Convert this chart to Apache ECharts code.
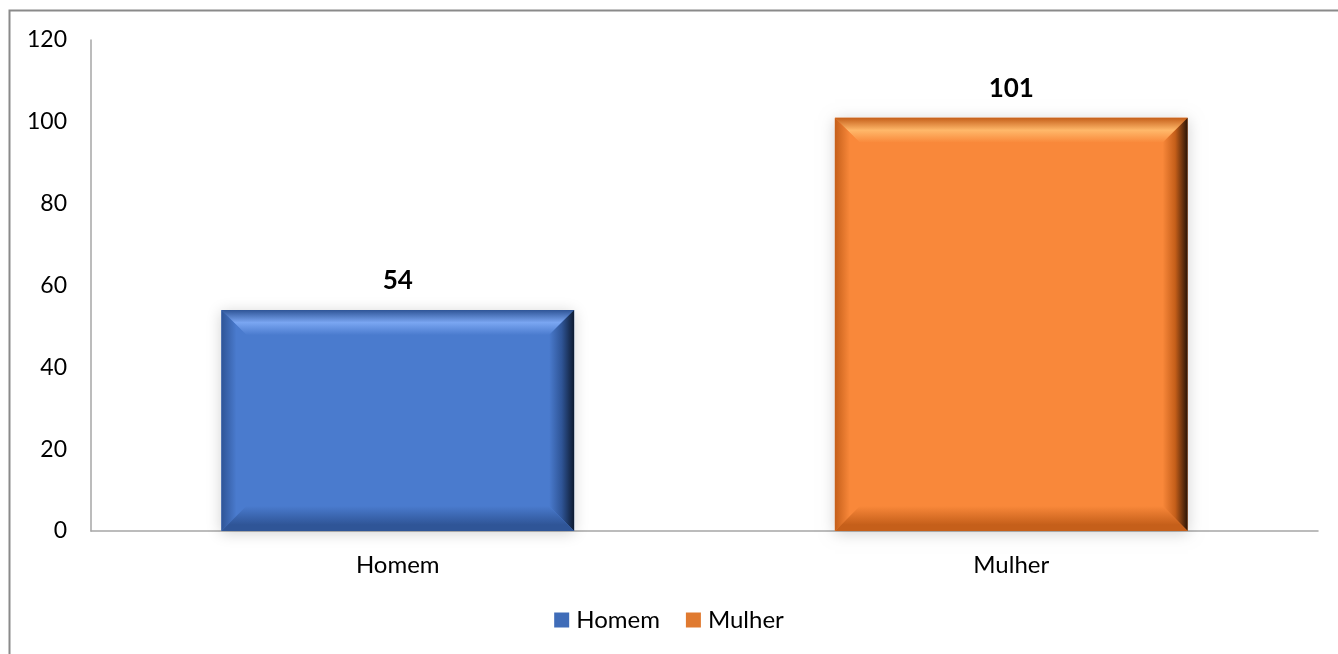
<!DOCTYPE html>
<html>
<head>
<meta charset="utf-8">
<script src="https://cdn.jsdelivr.net/npm/echarts@6/dist/echarts.min.js"></script>
<style>
  html, body { margin: 0; padding: 0; background: #fff; }
  #chart { width: 1338px; height: 654px; }
</style>
</head>
<body>
<div id="chart"></div>
<script>
const categories = ['Homem', 'Mulher']
const homemValues = [54]
const mulherValues = [101]
const yTicks = { min: 0, max: 120, interval: 20 }

const FONT = 'Lato, "Noto Sans", sans-serif'

// bevel-style bar, drawn through the axis scale
const bevelBar = (base, light, dark, darkest) => (params, api) => {
  const cat = api.value(0)
  const val = api.value(1)
  const top = api.coord([cat, val])
  const bottom = api.coord([cat, 0])
  const w = api.size([1, 0])[0] * 0.575
  const x0 = top[0] - w / 2
  const x1 = top[0] + w / 2
  const y0 = top[1]
  const y1 = bottom[1]
  const b = 25
  const lg = (x, y, x2, y2, stops) => new echarts.graphic.LinearGradient(x, y, x2, y2, stops)
  return {
    type: 'group',
    children: [
      {
        type: 'rect',
        shape: { x: x0, y: y0, width: w, height: y1 - y0 },
        style: { fill: base, shadowBlur: 14, shadowColor: 'rgba(0,0,0,0.18)', shadowOffsetY: 2 }
      },
      {
        type: 'polygon',
        shape: { points: [[x0, y0], [x1, y0], [x1 - b, y0 + b], [x0 + b, y0 + b]] },
        style: { fill: lg(0, 0, 0, 1, [
          { offset: 0, color: dark },
          { offset: 0.5, color: light },
          { offset: 1, color: base }
        ]) }
      },
      {
        type: 'polygon',
        shape: { points: [[x0, y0], [x0 + b, y0 + b], [x0 + b, y1 - b], [x0, y1]] },
        style: { fill: lg(0, 0, 1, 0, [
          { offset: 0, color: dark },
          { offset: 0.6, color: base },
          { offset: 1, color: base }
        ]) }
      },
      {
        type: 'polygon',
        shape: { points: [[x1, y0], [x1, y1], [x1 - b, y1 - b], [x1 - b, y0 + b]] },
        style: { fill: lg(0, 0, 1, 0, [
          { offset: 0, color: base },
          { offset: 0.5, color: dark },
          { offset: 1, color: darkest }
        ]) }
      },
      {
        type: 'polygon',
        shape: { points: [[x0, y1], [x0 + b, y1 - b], [x1 - b, y1 - b], [x1, y1]] },
        style: { fill: lg(0, 0, 0, 1, [
          { offset: 0, color: base },
          { offset: 0.75, color: dark },
          { offset: 1, color: dark }
        ]) }
      },
      {
        type: 'text',
        style: {
          text: String(val),
          x: top[0],
          y: y0 - 29,
          align: 'center',
          verticalAlign: 'middle',
          font: 'bold 26px ' + FONT,
          fill: '#000'
        }
      }
    ]
  }
}

const chart = echarts.init(document.getElementById('chart'))
chart.setOption({
  animation: false,
  backgroundColor: '#fff',
  graphic: [
    {
      type: 'rect',
      shape: { x: 9.5, y: 10.5, width: 1340, height: 660 },
      style: { fill: 'none', stroke: '#8a8a8a', lineWidth: 2 },
      silent: true
    }
  ],
  grid: { left: 91, right: 20, top: 40, bottom: 123 },
  legend: {
    bottom: 17,
    left: 'center',
    itemWidth: 15,
    itemHeight: 15,
    itemGap: 26,
    icon: 'rect',
    textStyle: { fontFamily: FONT, fontSize: 24, color: '#000', padding: [0, 0, 0, 2] },
    data: categories
  },
  xAxis: {
    type: 'category',
    data: categories,
    axisLine: { lineStyle: { color: '#a6a6a6', width: 1.5 } },
    axisTick: { show: false },
    axisLabel: { fontFamily: FONT, fontSize: 24, color: '#000', margin: 22 }
  },
  yAxis: {
    type: 'value',
    min: yTicks.min,
    max: yTicks.max,
    interval: yTicks.interval,
    axisLine: { show: true, lineStyle: { color: '#a6a6a6', width: 1.5 } },
    axisTick: { show: false },
    splitLine: { show: false },
    axisLabel: { fontFamily: FONT, fontSize: 23, color: '#000', margin: 24 }
  },
  series: [
    {
      name: 'Homem',
      type: 'custom',
      itemStyle: { color: '#3f6cb8' },
      renderItem: bevelBar('#4a7bce', '#7aa6f2', '#2f5597', '#0d1a30'),
      encode: { x: 0, y: 1 },
      data: homemValues.map(v => [0, v])
    },
    {
      name: 'Mulher',
      type: 'custom',
      itemStyle: { color: '#e07a30' },
      renderItem: bevelBar('#f9883a', '#ffb86a', '#c55f1a', '#2a1305'),
      encode: { x: 0, y: 1 },
      data: mulherValues.map(v => [1, v])
    }
  ]
})
</script>
</body>
</html>
